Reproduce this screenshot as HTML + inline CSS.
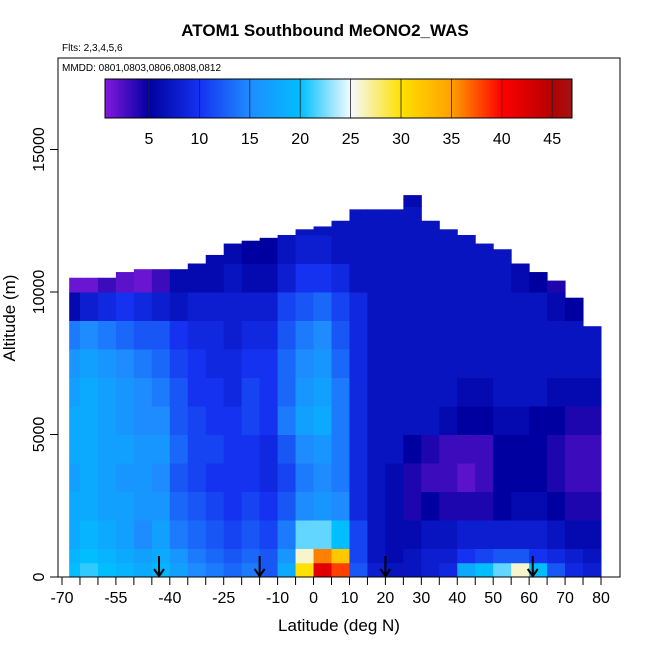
<!DOCTYPE html>
<html><head><meta charset="utf-8"><style>
body{margin:0;background:#fff}
svg{font-family:"Liberation Sans",sans-serif}
</style></head><body>
<svg id="c" width="650" height="650">
<rect width="650" height="650" fill="#fff"/>
<text x="325" y="36" text-anchor="middle" font-size="17" font-weight="bold">ATOM1 Southbound MeONO2_WAS</text>
<text x="62" y="51" font-size="10">Flts: 2,3,4,5,6</text>
<g id="heat"></g>
<g id="cbar"></g>
<g id="axes"></g>
<rect x="58" y="58" width="562" height="519" fill="none" stroke="#000"/>
<text x="62" y="71" font-size="10">MMDD: 0801,0803,0806,0808,0812</text>
<text x="339" y="631" text-anchor="middle" font-size="17">Latitude (deg N)</text>
<text x="15" y="318" text-anchor="middle" font-size="17" transform="rotate(-90 15 318)">Altitude (m)</text>
</svg>
<script>
const lats=[-70,-65,-60,-55,-50,-45,-40,-35,-30,-25,-20,-15,-10,-5,0,5,10,15,20,25,30,35,40,45,50,55,60,65,70,75];
const altBottoms=[0,500,1000,2000,3000,4000,5000,6000,7000,8000,9000,10000,11000,12000,13000];
const tops=[10500,10500,10500,10700,10800,10800,10800,11000,11300,11700,11800,11900,12000,12200,12300,12500,12900,12900,12900,13400,12500,12200,12000,11700,11500,11000,10700,10400,9800,8800];
const values=[
[20,21,20,19,18,19,17,15,14,13,14,12,18,30,42,38,12,8,7,7,8,9,18,20,22,26,20,12,9,8],
[19,20,19,18,17,18,16,14,13,12,13,12,16,26,36,32,11,7,6,7,8,8,10,11,12,12,10,9,8,7],
[18,19,18,17,15,17,14,13,12,11,12,11,14,22,22,20,11,7,6,6,7,7,8,8,8,8,8,7,6,6],
[18,18,17,17,16,16,13,12,11,10,11,10,12,15,16,15,9,7,6,4,5,4,4,4,5,6,6,5,4,4],
[17,18,17,16,16,15,12,11,10,10,10,9,11,14,15,14,9,7,6,4,3,3,2,3,5,5,5,4,3,3],
[18,18,17,17,16,16,13,11,11,10,10,9,12,15,16,14,9,7,7,5,4,3,3,3,5,5,5,4,3,3],
[18,18,17,16,15,15,12,11,10,10,11,10,14,17,18,14,9,7,7,7,7,6,5,5,6,6,5,5,4,4],
[17,18,17,16,15,14,12,10,10,9,11,10,13,16,17,14,9,7,7,7,7,7,6,6,7,7,7,6,6,6],
[16,17,16,15,14,13,11,10,9,9,10,10,13,15,16,13,9,7,7,7,7,7,7,7,7,7,7,7,7,7],
[14,15,14,13,12,12,10,9,9,8,9,9,12,14,15,12,9,7,7,7,7,7,7,7,7,7,7,7,7,7],
[6,8,9,10,9,8,7,8,8,8,8,8,11,12,13,11,9,7,7,7,7,7,7,7,7,7,7,6,5,5],
[1.5,1.5,3,2,1.5,3,6,6,6,7,6,6,8,10,10,9,7,7,7,7,7,7,7,7,7,6,5,4,4,4],
[6,6,6,6,6,6,6,6,6,6,5,5,7,8,8,7,7,7,7,7,7,7,7,7,7,7,7,7,7,7],
[6,6,6,6,6,6,6,6,6,6,6,6,6,7,7,7,7,7,7,7,7,7,7,7,7,7,7,7,7,7],
[6,6,6,6,6,6,6,6,6,6,6,6,6,6,6,6,6,6,6,6,6,6,6,6,6,6,6,6,6,6]];
const xTicks=[-70,-55,-40,-25,-10,0,10,20,30,40,50,60,70,80];
const xMinor=[-65,-60,-50,-45,-35,-30,-20,-15,-5,5,15,25,35,45,55,65,75];
const yTicks=[0,5000,10000,15000];
const cTicks=[5,10,15,20,25,30,35,40,45];
const arrowLats=[-43,-15,20,61];
const NS="http://www.w3.org/2000/svg";
const X=l=>62+(l+70)*539/150, Y=a=>577-a*142.5/5000, CX=v=>98.6+v*50.4/5;
const stops=[[0,[150,30,230]],[5,[0,0,160]],[10,[20,50,240]],[15,[30,140,255]],[20,[0,190,255]],[25,[245,250,255]],[30,[255,225,0]],[35,[255,160,0]],[40,[255,0,0]],[45,[180,0,0]],[48,[150,30,30]]];
function col(v){for(let i=1;i<stops.length;i++){if(v<=stops[i][0]){const a=stops[i-1],b=stops[i],t=Math.max(0,(v-a[0])/(b[0]-a[0]));return `rgb(${a[1].map((c,k)=>Math.round(c+(b[1][k]-c)*t)).join(',')})`;}}return 'rgb(150,30,30)';}
function mk(tag,at,par){const e=document.createElementNS(NS,tag);for(const k in at)e.setAttribute(k,at[k]);par.appendChild(e);return e;}
const heat=document.getElementById('heat');
lats.forEach((la,j)=>{altBottoms.forEach((ab,i)=>{
  const at=i+1<altBottoms.length?altBottoms[i+1]:14000;
  const top=Math.min(at,tops[j]);if(top<=ab)return;
  const x0=Math.max(X(la),X(-68)),x1=X(la+5);
  const r=mk('rect',{x:x0,y:Y(top),width:x1-x0+0.5,height:Y(ab)-Y(top)+0.5,fill:col(values[i][j])},heat);
  
  
});});
const cb=document.getElementById('cbar');
for(let x=105;x<572;x+=2){const v=(x+1-98.6)*5/50.4;mk('rect',{x:x,y:79,width:Math.min(2.5,572-x),height:39,fill:col(v)},cb);}
for(let v=5;v<=45;v+=5)mk('line',{x1:CX(v),x2:CX(v),y1:79,y2:118,stroke:'#222','stroke-width':0.8},cb);
mk('rect',{x:105,y:79,width:467,height:39,fill:'none',stroke:'#000'},cb);
cTicks.forEach(v=>{const t=mk('text',{x:CX(v),y:144,'text-anchor':'middle','font-size':16},cb);t.textContent=v;

});
const ax=document.getElementById('axes');
xTicks.forEach(v=>{mk('line',{x1:X(v),x2:X(v),y1:577,y2:585,stroke:'#000'},ax);const t=mk('text',{x:X(v),y:603,'text-anchor':'middle','font-size':16},ax);t.textContent=v;

});
xMinor.forEach(v=>mk('line',{x1:X(v),x2:X(v),y1:577,y2:585,stroke:'#000'},ax));
yTicks.forEach(v=>{mk('line',{x1:50,x2:58,y1:Y(v),y2:Y(v),stroke:'#000'},ax);const t=mk('text',{x:44,y:Y(v),'text-anchor':'middle','font-size':16,transform:`rotate(-90 44 ${Y(v)})`},ax);t.textContent=v;

});
arrowLats.forEach(l=>{const x=X(l);const g=mk('g',{},ax);


mk('line',{x1:x,x2:x,y1:556,y2:576,stroke:'#000','stroke-width':2},g);
mk('path',{d:`M${x-5} ${569} L${x} ${576} L${x+5} ${569}`,fill:'none',stroke:'#000','stroke-width':2},g);});
</script>
</body></html>
